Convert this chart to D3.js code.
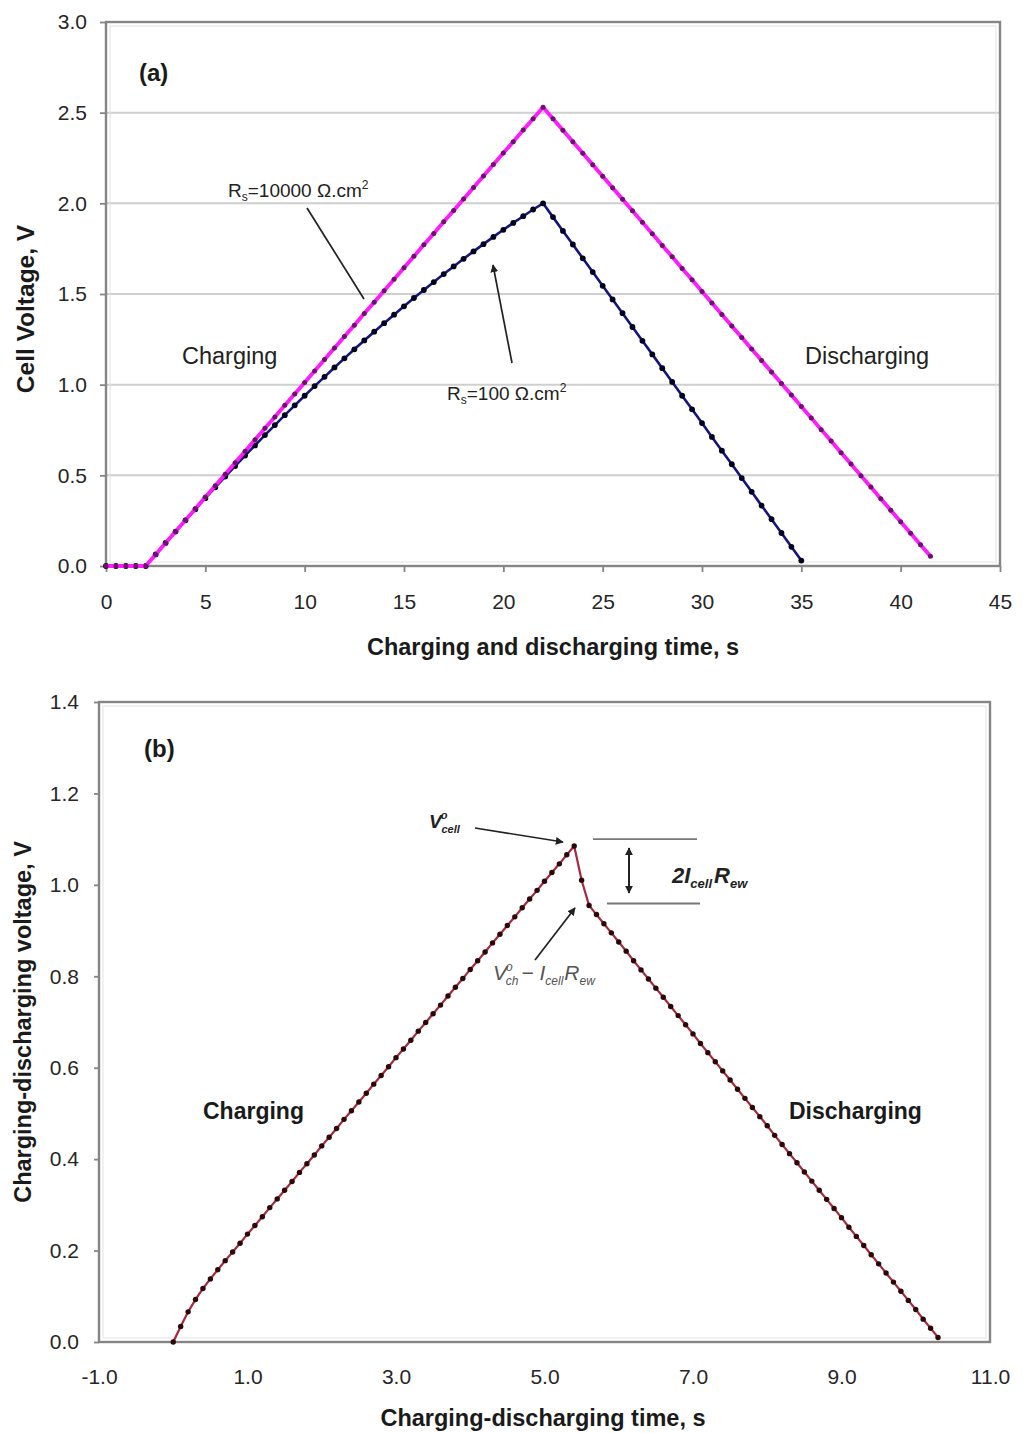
<!DOCTYPE html>
<html>
<head>
<meta charset="utf-8">
<script src="https://cdn.jsdelivr.net/npm/d3@7"></script>
<style>
  html, body { margin: 0; padding: 0; background: #fff; }
  svg { display: block; }
  text { font-family: "Liberation Sans", Arial, sans-serif; }
</style>
</head>
<body>
<svg id="chart" width="1023" height="1433"></svg>
<script>
// ---- Panel (a): cell voltage during one charge/discharge cycle ----
const timeHighRs = [
  0, 0.5, 1, 1.5, 2, 2.5, 3, 3.5, 4, 4.5, 5, 5.5, 6, 6.5, 7, 7.5, 8, 8.5, 9, 9.5,
  10, 10.5, 11, 11.5, 12, 12.5, 13, 13.5, 14, 14.5, 15, 15.5, 16, 16.5, 17, 17.5,
  18, 18.5, 19, 19.5, 20, 20.5, 21, 21.5, 22, 22.5, 23, 23.5, 24, 24.5, 25, 25.5,
  26, 26.5, 27, 27.5, 28, 28.5, 29, 29.5, 30, 30.5, 31, 31.5, 32, 32.5, 33, 33.5,
  34, 34.5, 35, 35.5, 36, 36.5, 37, 37.5, 38, 38.5, 39, 39.5, 40, 40.5, 41, 41.5
];
const voltHighRs = [
  0, 0, 0, 0, 0, 0.063, 0.127, 0.190, 0.253, 0.316, 0.380, 0.443, 0.506, 0.569,
  0.633, 0.696, 0.759, 0.822, 0.886, 0.949, 1.012, 1.075, 1.139, 1.202, 1.265,
  1.328, 1.392, 1.455, 1.518, 1.581, 1.645, 1.708, 1.771, 1.834, 1.898, 1.961,
  2.024, 2.087, 2.151, 2.214, 2.277, 2.340, 2.404, 2.467, 2.530, 2.467, 2.403,
  2.340, 2.276, 2.213, 2.149, 2.086, 2.022, 1.959, 1.895, 1.832, 1.768, 1.705,
  1.641, 1.578, 1.514, 1.451, 1.387, 1.324, 1.260, 1.197, 1.133, 1.070, 1.006,
  0.943, 0.879, 0.816, 0.752, 0.689, 0.625, 0.562, 0.498, 0.435, 0.371, 0.308,
  0.244, 0.181, 0.117, 0.054
];
const timeLowRs = [
  0, 0.5, 1, 1.5, 2, 2.5, 3, 3.5, 4, 4.5, 5, 5.5, 6, 6.5, 7, 7.5, 8, 8.5, 9, 9.5,
  10, 10.5, 11, 11.5, 12, 12.5, 13, 13.5, 14, 14.5, 15, 15.5, 16, 16.5, 17, 17.5,
  18, 18.5, 19, 19.5, 20, 20.5, 21, 21.5, 22, 22.5, 23, 23.5, 24, 24.5, 25, 25.5,
  26, 26.5, 27, 27.5, 28, 28.5, 29, 29.5, 30, 30.5, 31, 31.5, 32, 32.5, 33, 33.5,
  34, 34.5, 35
];
const voltLowRs = [
  0, 0, 0, 0, 0, 0.064, 0.127, 0.190, 0.252, 0.313, 0.374, 0.434, 0.493, 0.551,
  0.609, 0.665, 0.722, 0.777, 0.832, 0.886, 0.939, 0.992, 1.043, 1.095, 1.145,
  1.195, 1.244, 1.292, 1.339, 1.386, 1.432, 1.478, 1.522, 1.566, 1.610, 1.652,
  1.694, 1.735, 1.775, 1.815, 1.854, 1.892, 1.929, 1.966, 2.000, 1.924, 1.848,
  1.773, 1.697, 1.621, 1.545, 1.470, 1.394, 1.318, 1.242, 1.167, 1.091, 1.015,
  0.939, 0.864, 0.788, 0.712, 0.636, 0.561, 0.485, 0.409, 0.333, 0.258, 0.182,
  0.106, 0.030
];
const xTicksA = [0, 5, 10, 15, 20, 25, 30, 35, 40, 45];
const yTicksA = [0, 0.5, 1.0, 1.5, 2.0, 2.5, 3.0];

// ---- Panel (b): charging-discharging voltage ----
const timeCycle = [
  0, 0.1, 0.2, 0.3, 0.4, 0.5, 0.6, 0.7, 0.8, 0.9, 1.0, 1.1, 1.2, 1.3, 1.4, 1.5,
  1.6, 1.7, 1.8, 1.9, 2.0, 2.1, 2.2, 2.3, 2.4, 2.5, 2.6, 2.7, 2.8, 2.9, 3.0, 3.1,
  3.2, 3.3, 3.4, 3.5, 3.6, 3.7, 3.8, 3.9, 4.0, 4.1, 4.2, 4.3, 4.4, 4.5, 4.6, 4.7,
  4.8, 4.9, 5.0, 5.1, 5.2, 5.3, 5.4, 5.5, 5.6, 5.7, 5.8, 5.9, 6.0, 6.1, 6.2, 6.3,
  6.4, 6.5, 6.6, 6.7, 6.8, 6.9, 7.0, 7.1, 7.2, 7.3, 7.4, 7.5, 7.6, 7.7, 7.8, 7.9,
  8.0, 8.1, 8.2, 8.3, 8.4, 8.5, 8.6, 8.7, 8.8, 8.9, 9.0, 9.1, 9.2, 9.3, 9.4, 9.5,
  9.6, 9.7, 9.8, 9.9, 10.0, 10.1, 10.2, 10.3
];
const voltCycle = [
  0.000, 0.034, 0.066, 0.093, 0.117, 0.138, 0.158, 0.178, 0.197, 0.216, 0.236,
  0.255, 0.274, 0.294, 0.313, 0.332, 0.351, 0.371, 0.390, 0.409, 0.429, 0.448,
  0.467, 0.487, 0.506, 0.525, 0.544, 0.564, 0.583, 0.602, 0.622, 0.641, 0.660,
  0.680, 0.699, 0.718, 0.737, 0.757, 0.776, 0.795, 0.815, 0.834, 0.853, 0.873,
  0.892, 0.911, 0.930, 0.950, 0.969, 0.988, 1.008, 1.027, 1.046, 1.066, 1.085,
  1.010, 0.955, 0.935, 0.915, 0.895, 0.875, 0.855, 0.834, 0.814, 0.794, 0.774,
  0.754, 0.734, 0.714, 0.694, 0.674, 0.653, 0.633, 0.613, 0.593, 0.573, 0.553,
  0.533, 0.513, 0.493, 0.473, 0.452, 0.432, 0.412, 0.392, 0.372, 0.352, 0.332,
  0.312, 0.292, 0.272, 0.251, 0.231, 0.211, 0.191, 0.171, 0.151, 0.131, 0.111,
  0.091, 0.071, 0.050, 0.030, 0.010
];
const xTicksB = [-1, 1, 3, 5, 7, 9, 11];
const yTicksB = [0, 0.2, 0.4, 0.6, 0.8, 1.0, 1.2, 1.4];
// Reference levels marked beside the peak of panel (b)
const peakLevel = 1.087;
const dropLevel = 0.955;

const svg = d3.select("#chart");
const frameColor = "#858585";
const tickFont = 21;
const titleFont = 23.5;
const oneDecimal = v => d3.format(".1f")(v).replace("−", "-");

function drawFrame(g, x, y) {
  const [x0, x1] = x.range();
  const [y0, y1] = y.range();
  g.append("rect")
    .attr("x", x0).attr("y", y1)
    .attr("width", x1 - x0).attr("height", y0 - y1)
    .attr("fill", "none").attr("stroke", frameColor).attr("stroke-width", 2.4);
  g.append("rect")
    .attr("x", x0 + 4).attr("y", y1 + 4)
    .attr("width", x1 - x0 - 8).attr("height", y0 - y1 - 8)
    .attr("fill", "none").attr("stroke", "#e4e4e4").attr("stroke-width", 1);
}

function styleAxis(sel) {
  sel.select(".domain").remove();
  sel.selectAll(".tick line").attr("stroke", frameColor).attr("stroke-width", 1.8);
  sel.selectAll(".tick text")
    .attr("fill", "#262626")
    .style("font-size", tickFont + "px")
    .style("font-family", "'Liberation Sans', Arial, sans-serif");
}

function drawSeries(g, x, y, ts, vs, lineColor, lineWidth, dotColor, dotR) {
  const pts = ts.map((t, i) => [t, vs[i]]);
  const line = d3.line().x(d => x(d[0])).y(d => y(d[1]));
  g.append("path").datum(pts)
    .attr("d", line).attr("fill", "none")
    .attr("stroke", lineColor).attr("stroke-width", lineWidth)
    .attr("stroke-linejoin", "round");
  g.selectAll(null).data(pts).enter().append("circle")
    .attr("cx", d => x(d[0])).attr("cy", d => y(d[1]))
    .attr("r", dotR).attr("fill", dotColor);
}

// arrow marker definitions
const defs = svg.append("defs");
function addMarker(id, orient) {
  defs.append("marker")
    .attr("id", id).attr("viewBox", "0 0 10 10")
    .attr("refX", 9).attr("refY", 5)
    .attr("markerWidth", 8).attr("markerHeight", 8)
    .attr("markerUnits", "userSpaceOnUse")
    .attr("orient", orient)
    .append("path").attr("d", "M0,0 L10,5 L0,10 z").attr("fill", "#222");
}
addMarker("arrowEnd", "auto");
addMarker("arrowStart", "auto-start-reverse");

/* ===================== Panel (a) ===================== */
{
  const x = d3.scaleLinear().domain([0, 45]).range([106, 1000]);
  const y = d3.scaleLinear().domain([0, 3]).range([566, 22]);
  const g = svg.append("g");

  // horizontal gridlines
  g.selectAll(null).data(yTicksA.filter(v => v > 0 && v < 3)).enter().append("line")
    .attr("x1", x(0)).attr("x2", x(45))
    .attr("y1", d => y(d)).attr("y2", d => y(d))
    .attr("stroke", "#cfcfcf").attr("stroke-width", 2);

  drawFrame(g, x, y);

  g.append("g").attr("transform", `translate(${x(0)},0)`)
    .call(d3.axisLeft(y).tickValues(yTicksA).tickSize(6).tickPadding(13).tickFormat(oneDecimal))
    .call(styleAxis);
  g.append("g").attr("transform", `translate(0,${y(0)})`)
    .call(d3.axisBottom(x).tickValues(xTicksA).tickSize(6).tickPadding(22).tickFormat(d3.format("d")))
    .call(styleAxis);

  drawSeries(g, x, y, timeLowRs, voltLowRs, "#141480", 2.6, "#00001e", 2.9);
  drawSeries(g, x, y, timeHighRs, voltHighRs, "#ff1aff", 3.8, "#6e106e", 2.5);

  // axis titles
  g.append("text").attr("x", 553).attr("y", 655)
    .attr("text-anchor", "middle").attr("font-weight", "bold").attr("font-size", titleFont)
    .attr("fill", "#1a1a1a").text("Charging and discharging time, s");
  g.append("text").attr("transform", "translate(34,309) rotate(-90)")
    .attr("text-anchor", "middle").attr("font-weight", "bold").attr("font-size", titleFont + 1)
    .attr("fill", "#1a1a1a").text("Cell Voltage, V");

  g.append("text").attr("x", 139).attr("y", 81)
    .attr("font-weight", "bold").attr("font-size", 24).attr("fill", "#1a1a1a").text("(a)");

  g.append("text").attr("x", 182).attr("y", 364)
    .attr("font-size", 23.5).attr("fill", "#222").text("Charging");
  g.append("text").attr("x", 805).attr("y", 364)
    .attr("font-size", 23.5).attr("fill", "#222").text("Discharging");

  // resistance labels with leader lines
  const lab1 = g.append("text").attr("x", 228).attr("y", 197)
    .attr("font-size", 19).attr("fill", "#222");
  lab1.append("tspan").text("R");
  lab1.append("tspan").attr("font-size", 12).attr("dy", 4).text("s");
  lab1.append("tspan").attr("dy", -4).text("=10000 Ω.cm");
  lab1.append("tspan").attr("font-size", 12).attr("dy", -8).text("2");
  g.append("line").attr("x1", 307).attr("y1", 208).attr("x2", 364).attr("y2", 299)
    .attr("stroke", "#222").attr("stroke-width", 1.7);

  const lab2 = g.append("text").attr("x", 447).attr("y", 400)
    .attr("font-size", 19).attr("fill", "#222");
  lab2.append("tspan").text("R");
  lab2.append("tspan").attr("font-size", 12).attr("dy", 4).text("s");
  lab2.append("tspan").attr("dy", -4).text("=100 Ω.cm");
  lab2.append("tspan").attr("font-size", 12).attr("dy", -8).text("2");
  g.append("line").attr("x1", 512).attr("y1", 363).attr("x2", 493).attr("y2", 265)
    .attr("stroke", "#222").attr("stroke-width", 1.7).attr("marker-end", "url(#arrowEnd)");
}

/* ===================== Panel (b) ===================== */
{
  const x = d3.scaleLinear().domain([-1, 11]).range([99, 990]);
  const y = d3.scaleLinear().domain([0, 1.4]).range([1342, 702]);
  const g = svg.append("g");

  drawFrame(g, x, y);

  g.append("g").attr("transform", `translate(${x(-1)},0)`)
    .call(d3.axisLeft(y).tickValues(yTicksB).tickSize(5).tickPadding(15).tickFormat(oneDecimal))
    .call(styleAxis);
  g.append("g").attr("transform", `translate(0,${y(0)})`)
    .call(d3.axisBottom(x).tickValues(xTicksB).tickSize(0).tickPadding(27).tickFormat(oneDecimal))
    .call(styleAxis);

  drawSeries(g, x, y, timeCycle, voltCycle, "#a8283e", 2.2, "#2a0808", 2.7);

  // reference levels and double arrow
  g.append("line").attr("x1", 593).attr("x2", 697).attr("y1", y(peakLevel) - 6).attr("y2", y(peakLevel) - 6)
    .attr("stroke", "#777").attr("stroke-width", 1.9);
  g.append("line").attr("x1", 607).attr("x2", 700).attr("y1", y(dropLevel) - 2).attr("y2", y(dropLevel) - 2)
    .attr("stroke", "#777").attr("stroke-width", 1.9);
  g.append("line").attr("x1", 629).attr("x2", 629).attr("y1", 848).attr("y2", 893)
    .attr("stroke", "#222").attr("stroke-width", 2)
    .attr("marker-start", "url(#arrowStart)").attr("marker-end", "url(#arrowEnd)");

  // peak annotation
  const vc = g.append("text").attr("x", 429).attr("y", 828)
    .attr("font-family", "'Liberation Serif', 'Times New Roman', serif")
    .attr("font-style", "italic").attr("font-weight", "bold").attr("font-size", 19).attr("fill", "#222");
  vc.append("tspan").text("V");
  vc.append("tspan").attr("font-size", 11).attr("dy", -9).attr("dx", -1).text("o");
  vc.append("tspan").attr("font-size", 11).attr("dy", 14).attr("dx", -6).text("cell");
  g.append("line").attr("x1", 475).attr("y1", 828).attr("x2", 563).attr("y2", 842)
    .attr("stroke", "#222").attr("stroke-width", 1.7).attr("marker-end", "url(#arrowEnd)");

  // drop magnitude label
  const dr = g.append("text").attr("x", 672).attr("y", 883)
    .attr("font-family", "'Liberation Serif', 'Times New Roman', serif")
    .attr("font-style", "italic").attr("font-weight", "bold").attr("font-size", 22).attr("fill", "#222");
  dr.append("tspan").text("2I");
  dr.append("tspan").attr("font-size", 13).attr("dy", 5).text("cell");
  dr.append("tspan").attr("dy", -5).attr("dx", 2).text("R");
  dr.append("tspan").attr("font-size", 13).attr("dy", 5).text("ew");

  // post-drop label
  const pd = g.append("text").attr("x", 493).attr("y", 980)
    .attr("font-family", "'Liberation Serif', 'Times New Roman', serif")
    .attr("font-style", "italic").attr("font-size", 21).attr("fill", "#555");
  pd.append("tspan").text("V");
  pd.append("tspan").attr("font-size", 12).attr("dy", -9).attr("dx", -1).text("o");
  pd.append("tspan").attr("font-size", 12).attr("dy", 14).attr("dx", -7).text("ch");
  pd.append("tspan").attr("dy", -5).attr("dx", 3).text("− I");
  pd.append("tspan").attr("font-size", 12).attr("dy", 5).text("cell");
  pd.append("tspan").attr("dy", -5).attr("dx", 1).text("R");
  pd.append("tspan").attr("font-size", 12).attr("dy", 5).text("ew");
  g.append("line").attr("x1", 535).attr("y1", 960).attr("x2", 575).attr("y2", 908)
    .attr("stroke", "#222").attr("stroke-width", 1.7).attr("marker-end", "url(#arrowEnd)");

  g.append("text").attr("x", 144).attr("y", 757)
    .attr("font-weight", "bold").attr("font-size", 24).attr("fill", "#1a1a1a").text("(b)");

  g.append("text").attr("x", 203).attr("y", 1119)
    .attr("font-weight", "bold").attr("font-size", 23).attr("fill", "#1a1a1a").text("Charging");
  g.append("text").attr("x", 789).attr("y", 1119)
    .attr("font-weight", "bold").attr("font-size", 23).attr("fill", "#1a1a1a").text("Discharging");

  g.append("text").attr("x", 543).attr("y", 1426)
    .attr("text-anchor", "middle").attr("font-weight", "bold").attr("font-size", titleFont)
    .attr("fill", "#1a1a1a").text("Charging-discharging time, s");
  g.append("text").attr("transform", "translate(31,1022) rotate(-90)")
    .attr("text-anchor", "middle").attr("font-weight", "bold").attr("font-size", titleFont)
    .attr("fill", "#1a1a1a").text("Charging-discharging voltage, V");
}
</script>
</body>
</html>
